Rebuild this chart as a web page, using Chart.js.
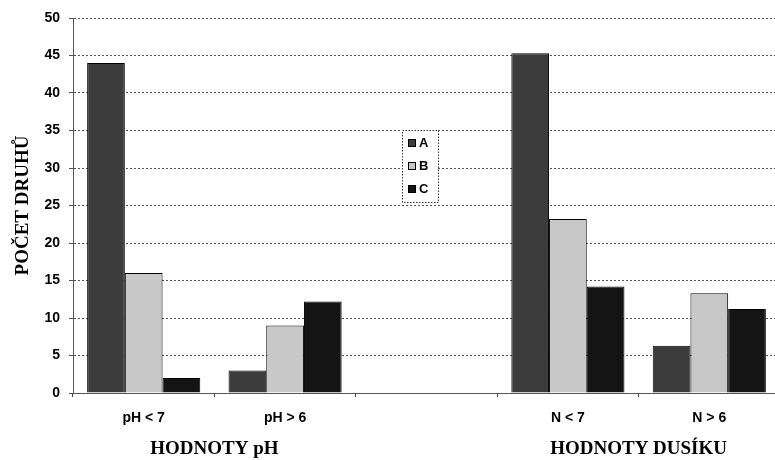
<!DOCTYPE html>
<html>
<head>
<meta charset="utf-8">
<script src="https://cdn.jsdelivr.net/npm/chart.js@4"></script>
<style>
html,body{margin:0;padding:0;background:#fff;overflow:hidden;}
#wrap{width:775px;height:460px;position:relative;overflow:hidden;}
</style>
</head>
<body>
<div id="wrap"><canvas id="c" width="780" height="460"></canvas></div>
<script>
const categories = ["pH < 7", "pH > 6", "", "N < 7", "N > 6"];
const seriesNames = ["A", "B", "C"];
const valuesA = [44, 3, null, 45.3, 6.3];
const valuesB = [16, 9, null, 23.2, 13.3];
const valuesC = [2, 12.2, null, 14.2, 11.2];
const groupLabels = ["HODNOTY pH", "HODNOTY DUSÍKU"];
const groupCategoryPairs = [[0, 1], [3, 4]];
const yTitle = "POČET DRUHŮ";
const yMin = 0, yMax = 50, yStep = 5;

const colors = ["#3c3c3c", "#c8c8c8", "#141414"];

const legendPlugin = {
  id: 'midLegend',
  afterDatasetsDraw(chart) {
    const ctx = chart.ctx;
    const bx = 402, by = 130, bw = 36, bh = 72;
    ctx.save();
    ctx.fillStyle = '#fff';
    ctx.fillRect(bx, by, bw, bh);
    ctx.setLineDash([1.5, 1.5]);
    ctx.strokeStyle = '#333';
    ctx.lineWidth = 1;
    ctx.strokeRect(bx + 0.5, by + 0.5, bw, bh);
    ctx.setLineDash([]);
    ctx.font = 'bold 13px "Liberation Sans", Arial, sans-serif';
    ctx.textBaseline = 'middle';
    chart.data.datasets.forEach((ds, i) => {
      const yy = by + 13 + i * 23;
      ctx.fillStyle = ds.backgroundColor;
      ctx.fillRect(bx + 6, yy - 4, 8, 8);
      ctx.strokeStyle = '#000';
      ctx.strokeRect(bx + 6.5, yy - 3.5, 7, 7);
      ctx.fillStyle = '#000';
      ctx.fillText(ds.label, bx + 17, yy);
    });
    ctx.restore();
  }
};

const groupPlugin = {
  id: 'groupLabels',
  afterDraw(chart) {
    const ctx = chart.ctx;
    const x = chart.scales.x;
    ctx.save();
    ctx.font = 'bold 19px "Liberation Serif", "Times New Roman", serif';
    ctx.fillStyle = '#000';
    ctx.textAlign = 'center';
    ctx.textBaseline = 'middle';
    groupLabels.forEach((lab, i) => {
      const p = groupCategoryPairs[i];
      const cx = (x.getPixelForValue(p[0]) + x.getPixelForValue(p[1])) / 2;
      ctx.fillText(lab, cx, 449);
    });
    ctx.restore();
  }
};

const mk = (label, data, color) => ({
  label, data,
  backgroundColor: color,
  borderColor: '#000',
  borderWidth: 1,
  categoryPercentage: 0.8,
  barPercentage: 1.0
});

new Chart(document.getElementById('c'), {
  type: 'bar',
  data: {
    labels: categories,
    datasets: [
      mk(seriesNames[0], valuesA, colors[0]),
      mk(seriesNames[1], valuesB, colors[1]),
      mk(seriesNames[2], valuesC, colors[2])
    ]
  },
  options: {
    responsive: false,
    animation: false,
    layout: { padding: { top: 18, right: 0, left: 0, bottom: 0 } },
    plugins: { legend: { display: false }, tooltip: { enabled: false } },
    scales: {
      x: {
        grid: { display: true, drawOnChartArea: false, drawTicks: true, tickLength: 4, color: '#444', offset: true },
        border: { display: true, color: '#555', dash: [2, 2] },
        ticks: { color: '#000', font: { family: '"Liberation Sans", Arial, sans-serif', weight: 'bold', size: 14 }, padding: 13, maxRotation: 0 },
        afterFit(s) { s.height = 67; }
      },
      y: {
        min: yMin, max: yMax,
        ticks: { stepSize: yStep, color: '#000', font: { family: '"Liberation Sans", Arial, sans-serif', weight: 'bold', size: 14 }, padding: 9 },
        grid: { color: '#555', lineWidth: 1, tickLength: 4, drawTicks: true },
        border: { display: true, color: '#555', dash: [2, 2] },
        title: { display: true, text: yTitle, color: '#000', font: { family: '"Liberation Serif", "Times New Roman", serif', weight: 'bold', size: 19 }, padding: { top: 12, bottom: 0 } },
        afterFit(s) { s.width = 73; }
      }
    }
  },
  plugins: [legendPlugin, groupPlugin]
});
</script>
</body>
</html>
